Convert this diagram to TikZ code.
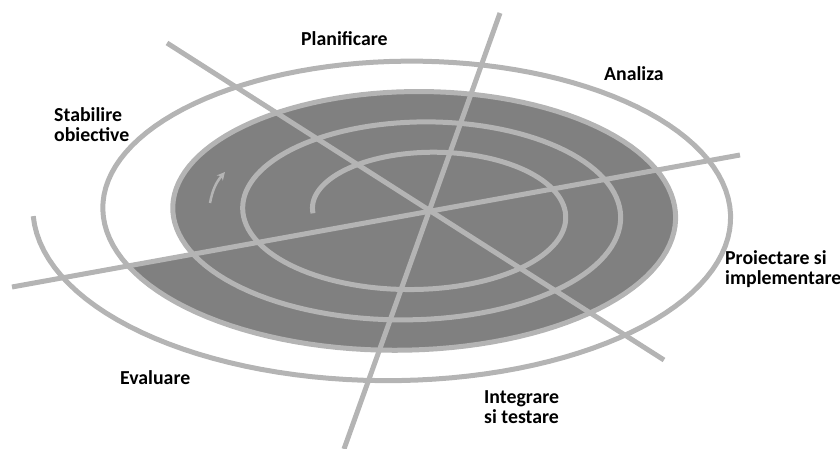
\documentclass[tikz,border=0pt]{standalone}
\usepackage{fontspec}
\setmainfont{Carlito}
\usepackage{xcolor}
\usetikzlibrary{arrows.meta}
\definecolor{ringgray}{HTML}{B4B4B4}
\definecolor{diskgray}{HTML}{808080}

\begin{document}
\begin{tikzpicture}[
  x=1pt, y=-1pt,
  declare function={spx(\t)=425.5-7.5*\t+(112.5+62.5*\t)*cos(180-360*\t);
                    spy(\t)=213.3-(53.3+30.4*\t)*sin(180-360*\t);},
  spiral/.style={draw=ringgray, line width=5pt},
  spoke/.style={draw=ringgray, line width=5pt},
  flow/.style={-{Stealth[length=8pt,width=8pt]}, draw=ringgray, line width=2.5pt},
  phase/.style={font=\bfseries\fontsize{19.8}{20}\selectfont, align=left, anchor=base west, inner sep=0pt, text=black}
]
\useasboundingbox (0,0) rectangle (840,449);

\fill[diskgray] plot[domain=1.94:2.94, samples=150, variable=\t] ({spx(\t)}, {spy(\t)}) -- cycle;
\draw[spiral] plot[domain=0:4, samples=500, variable=\t] ({spx(\t)}, {spy(\t)});

\coordinate (aW) at (12,287);
\coordinate (aE) at (740,155);
\coordinate (bNW) at (167,43);
\coordinate (bSE) at (664,360);
\coordinate (cN) at (500,13);
\coordinate (cS) at (344,449);
\draw[spoke] (aW) -- (aE);
\draw[spoke] (bNW) -- (bSE);
\draw[spoke] (cN) -- (cS);

\coordinate (flowA) at (210,203);
\coordinate (flowB) at (225,172);
\draw[flow] (flowA) to[bend left=15] (flowB);

\node[phase] (plan) at (301,46) {Planificare};
\node[phase] (anal) at (604,81) {Analiza};
\node[phase] (obj) at (54,142) {Stabilire\\obiective};
\node[phase] (impl) at (725,284) {Proiectare si\\implementare};
\node[phase] (eval) at (120,384) {Evaluare};
\node[phase] (test) at (484,423) {Integrare\\si testare};
\end{tikzpicture}
\end{document}
